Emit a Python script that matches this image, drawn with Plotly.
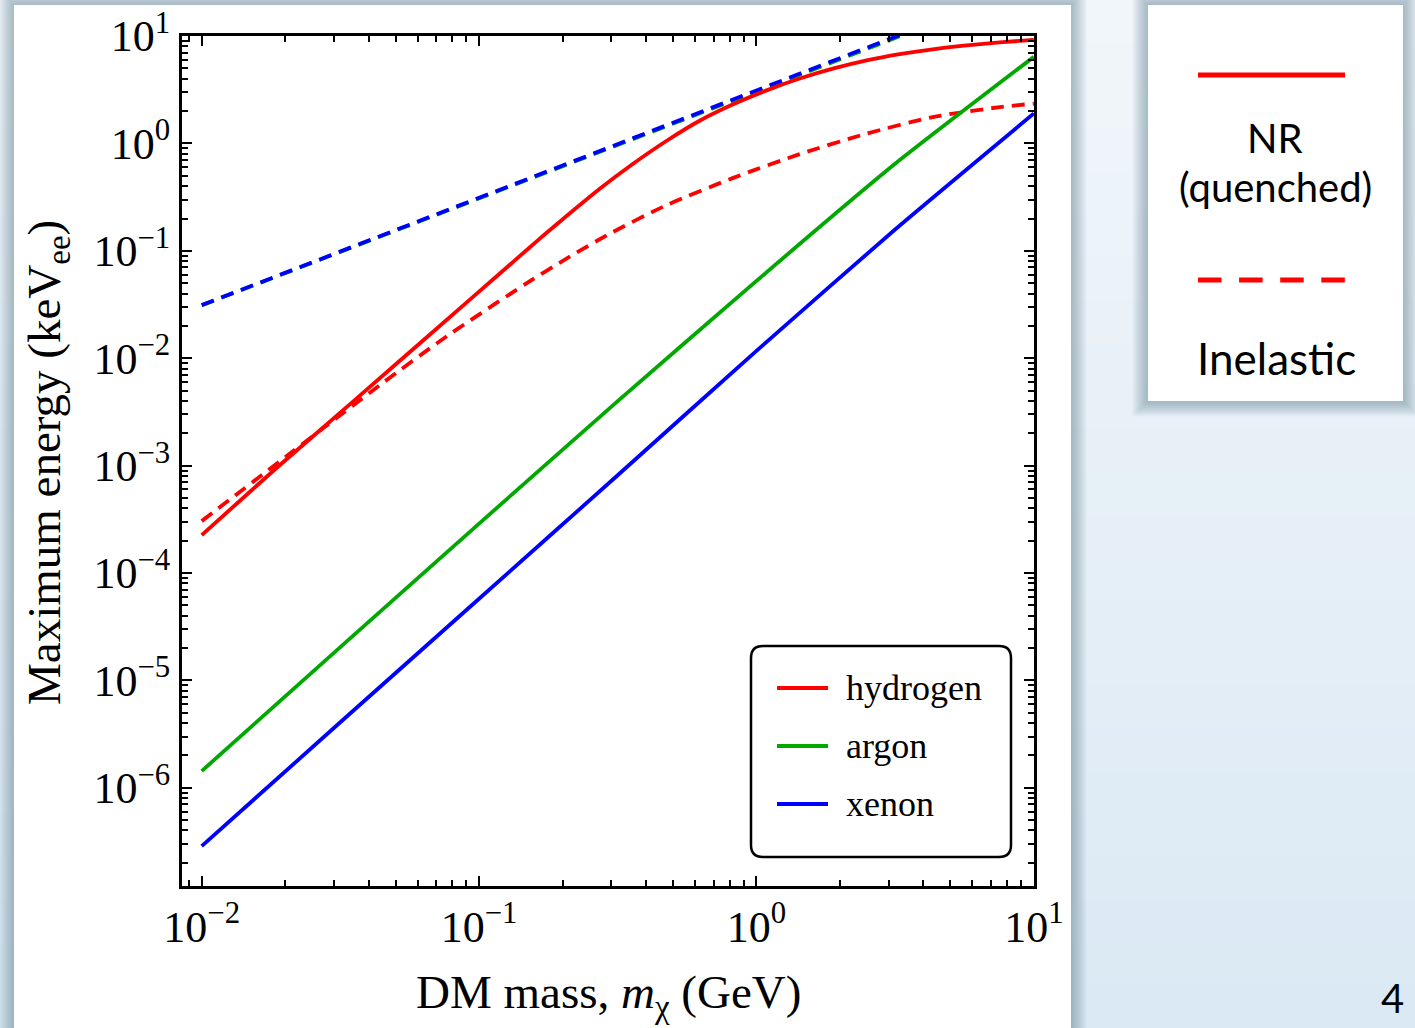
import plotly.graph_objects as go

# ---------------- data ----------------
mass_h_nr = [0.01, 0.0191, 0.0351, 0.0665, 0.1324, 0.1655, 0.1954, 0.2723, 0.358, 0.4747, 0.6237,
             0.8203, 1.088, 1.432, 1.884, 2.496, 3.281, 4.315, 5.724, 7.534, 10.0]
E_h_nr = [2.25e-4, 1.007e-3, 3.94e-3, 0.01663, 0.0785, 0.130, 0.1866, 0.3776, 0.643, 1.059, 1.626,
          2.30, 3.12, 4.02, 4.97, 5.93, 6.78, 7.53, 8.19, 8.74, 9.22]

mass_h_inel = [0.01, 0.0208, 0.0439, 0.0766, 0.1486, 0.2123, 0.296, 0.4747, 0.8203, 1.432,
               2.496, 4.315, 7.534, 10.0]
E_h_inel = [3.04e-4, 1.294e-3, 5.62e-3, 0.01606, 0.05, 0.0883, 0.1446, 0.2666, 0.4755, 0.7947,
            1.233, 1.758, 2.178, 2.348]

mass_ar_nr = [0.01, 0.0316, 0.1, 0.316, 1.0, 3.16, 10.0]
E_ar_nr = [1.43e-6, 2.04e-5, 2.88e-4, 3.98e-3, 0.0525, 0.646, 6.4]

mass_xe_nr = [0.01, 0.0316, 0.1, 0.316, 1.0, 3.16, 10.0]
E_xe_nr = [2.86e-7, 4.07e-6, 5.75e-5, 8.13e-4, 0.0117, 0.158, 1.9]

mass_inel = [0.01, 0.1, 1.0, 3.5]
E_ar_inel = [0.0311, 0.309, 3.03, 10.6]
E_xe_inel = [0.0312, 0.312, 3.12, 10.9]

x_tick_vals = [0.01, 0.1, 1, 10]
x_tick_text = ["10<sup>\u22122</sup>", "10<sup>\u22121</sup>", "10<sup>0</sup>", "10<sup>1</sup>"]
y_tick_vals = [1e-6, 1e-5, 1e-4, 1e-3, 1e-2, 1e-1, 1, 10]
y_tick_text = ["10<sup>\u22126</sup>", "10<sup>\u22125</sup>", "10<sup>\u22124</sup>", "10<sup>\u22123</sup>",
               "10<sup>\u22122</sup>", "10<sup>\u22121</sup>", "10<sup>0</sup>", "10<sup>1</sup>"]

legend_names = ["hydrogen", "argon", "xenon"]

RED = "#ff0000"
GREEN = "#00a800"
BLUE = "#0000ff"
SERIF = "Liberation Serif"
SANS = "Lato"

# ---------------- geometry helpers ----------------
W, H = 1415, 1028
L, R, T, B = 182, 1034, 36, 886


def PX(x):
    return (x - L) / (R - L)


def PY(y):
    return (B - y) / (B - T)


minor_x = [m * 10 ** k for k in range(-3, 1) for m in range(2, 10)]
minor_y = [m * 10 ** k for k in range(-7, 1) for m in range(2, 10)]

fig = go.Figure()

LW = 3.8
DASH = "13px,8px"
fig.add_trace(go.Scatter(x=mass_inel, y=E_ar_inel, mode="lines",
                         line=dict(color=GREEN, width=LW, dash=DASH), showlegend=False))
fig.add_trace(go.Scatter(x=mass_inel, y=E_xe_inel, mode="lines",
                         line=dict(color=BLUE, width=LW, dash=DASH), showlegend=False))
fig.add_trace(go.Scatter(x=mass_h_inel, y=E_h_inel, mode="lines",
                         line=dict(color=RED, width=LW, dash=DASH, shape="spline", smoothing=0.7),
                         showlegend=False))
fig.add_trace(go.Scatter(x=mass_xe_nr, y=E_xe_nr, mode="lines",
                         line=dict(color=BLUE, width=LW, shape="spline", smoothing=0.6), showlegend=False))
fig.add_trace(go.Scatter(x=mass_ar_nr, y=E_ar_nr, mode="lines",
                         line=dict(color=GREEN, width=LW, shape="spline", smoothing=0.6), showlegend=False))
fig.add_trace(go.Scatter(x=mass_h_nr, y=E_h_nr, mode="lines",
                         line=dict(color=RED, width=LW, shape="spline", smoothing=0.7), showlegend=False))

shapes = []

# background gradient (slide)
n_bands = 24
top_c = (241, 246, 250)
bot_c = (219, 233, 244)
for i in range(n_bands):
    f = i / (n_bands - 1)
    c = tuple(int(round(top_c[j] + (bot_c[j] - top_c[j]) * f)) for j in range(3))
    y0 = i * H / n_bands
    y1 = (i + 1) * H / n_bands + 1
    shapes.append(dict(type="rect", xref="paper", yref="paper", layer="below",
                       x0=PX(-5), x1=PX(W + 5), y0=PY(y1), y1=PY(y0),
                       line=dict(width=0), fillcolor="rgb(%d,%d,%d)" % c))


def panel(x0, y0, x1, y1):
    out = []
    for k in range(9, 0, -1):
        d = k * 1.7
        out.append(dict(type="rect", xref="paper", yref="paper", layer="below",
                        x0=PX(x0 - d), x1=PX(x1 + d), y0=PY(y1 + d), y1=PY(y0 - d),
                        line=dict(width=0), fillcolor="rgba(70,105,120,0.055)"))
    out.append(dict(type="rect", xref="paper", yref="paper", layer="below",
                    x0=PX(x0), x1=PX(x1), y0=PY(y1), y1=PY(y0),
                    line=dict(width=0), fillcolor="white"))
    return out


shapes += panel(14, 5, 1071, 1040)
shapes += panel(1148, 5, 1403, 401)

# in-plot legend box with rounded corners
bx0, by0, bx1, by1, r = 751, 646, 1011, 857, 12
rx, ry = r / (R - L), r / (B - T)
X0, X1, Y0, Y1 = PX(bx0), PX(bx1), PY(by1), PY(by0)
path = (f"M {X0+rx},{Y1} L {X1-rx},{Y1} Q {X1},{Y1} {X1},{Y1-ry} "
        f"L {X1},{Y0+ry} Q {X1},{Y0} {X1-rx},{Y0} "
        f"L {X0+rx},{Y0} Q {X0},{Y0} {X0},{Y0+ry} "
        f"L {X0},{Y1-ry} Q {X0},{Y1} {X0+rx},{Y1} Z")
shapes.append(dict(type="path", xref="paper", yref="paper", path=path, layer="above",
                   fillcolor="white", line=dict(color="black", width=2.5)))

annotations = []
for name, col, yy in zip(legend_names, [RED, GREEN, BLUE], [688, 746, 804]):
    shapes.append(dict(type="line", xref="paper", yref="paper", layer="above",
                       x0=PX(777), x1=PX(828), y0=PY(yy), y1=PY(yy),
                       line=dict(color=col, width=3.8)))
    annotations.append(dict(xref="paper", yref="paper", x=PX(844), y=PY(yy), text=name,
                            showarrow=False, xanchor="left", yanchor="middle",
                            font=dict(family=SERIF, size=36, color="black")))

# right-hand key panel
shapes.append(dict(type="line", xref="paper", yref="paper", layer="above",
                   x0=PX(1198), x1=PX(1345), y0=PY(75), y1=PY(75),
                   line=dict(color=RED, width=5)))
shapes.append(dict(type="line", xref="paper", yref="paper", layer="above",
                   x0=PX(1198), x1=PX(1345), y0=PY(280), y1=PY(280),
                   line=dict(color=RED, width=5, dash="23.5px,17.6px")))
annotations.append(dict(xref="paper", yref="paper", x=PX(1275), y=PY(138), text="NR",
                        showarrow=False, xanchor="center", yanchor="middle",
                        font=dict(family=SANS, size=40, color="black")))
annotations.append(dict(xref="paper", yref="paper", x=PX(1275), y=PY(187), text="(quenched)",
                        showarrow=False, xanchor="center", yanchor="middle",
                        font=dict(family=SANS, size=40, color="black")))
annotations.append(dict(xref="paper", yref="paper", x=PX(1276), y=PY(358), text="Inelastic",
                        showarrow=False, xanchor="center", yanchor="middle",
                        font=dict(family=SANS, size=44, color="black")))
annotations.append(dict(xref="paper", yref="paper", x=PX(1392), y=PY(998), text="4",
                        showarrow=False, xanchor="center", yanchor="middle",
                        font=dict(family=SANS, size=40, color="black")))

# axis titles
annotations.append(dict(xref="paper", yref="paper", x=PX(608), y=PY(995),
                        text="DM mass, <i>m</i><sub>\u03c7</sub> (GeV)",
                        showarrow=False, xanchor="center", yanchor="middle",
                        font=dict(family=SERIF, size=47, color="black")))
annotations.append(dict(xref="paper", yref="paper", x=PX(47), y=PY(463),
                        text="Maximum energy (keV<sub>ee</sub>)", textangle=-90,
                        showarrow=False, xanchor="center", yanchor="middle",
                        font=dict(family=SERIF, size=47, color="black")))

axis_common = dict(type="log", ticks="inside", ticklen=10, tickwidth=2, tickcolor="black",
                   showline=True, linewidth=3, linecolor="black", mirror="allticks",
                   showgrid=False, zeroline=False, tickmode="array", automargin=False,
                   tickfont=dict(family=SERIF, size=44, color="black"))

fig.update_layout(
    width=W, height=H,
    margin=dict(l=L, r=W - R, t=T, b=H - B, pad=0, autoexpand=False),
    paper_bgcolor="rgb(230,239,246)",
    plot_bgcolor="rgba(0,0,0,0)",
    showlegend=False,
    shapes=shapes,
    annotations=annotations,
    xaxis=dict(range=[-2.071, 1.0005], tickvals=x_tick_vals, ticktext=x_tick_text,
               minor=dict(tickmode="array", tickvals=minor_x, ticks="inside", ticklen=6,
                          tickwidth=2, tickcolor="black", showgrid=False),
               **axis_common),
    yaxis=dict(range=[-6.915, 1.0005], tickvals=y_tick_vals, ticktext=y_tick_text,
               minor=dict(tickmode="array", tickvals=minor_y, ticks="inside", ticklen=6,
                          tickwidth=2, tickcolor="black", showgrid=False),
               **axis_common),
)

fig.write_html("out.html")
